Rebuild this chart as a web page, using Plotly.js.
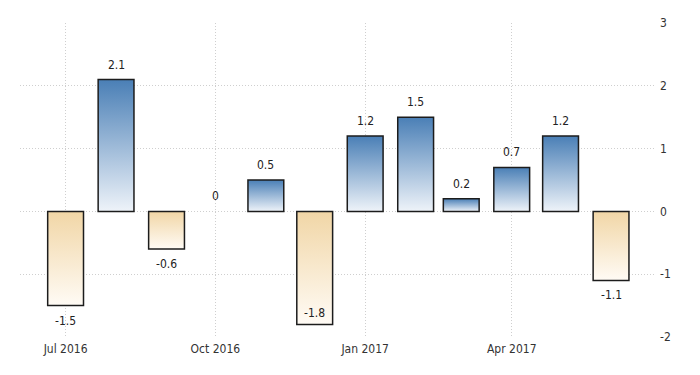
<!DOCTYPE html>
<html>
<head>
<meta charset="utf-8">
<script src="https://cdn.plot.ly/plotly-3.0.1.min.js"></script>
<style>
html,body{margin:0;padding:0;background:#fff;}
#chart{width:700px;height:375px;}
</style>
</head>
<body>
<div id="chart"></div>
<script>
var months = ["2016-07-01","2016-08-01","2016-09-01","2016-10-01","2016-11-01","2016-12-01",
              "2017-01-01","2017-02-01","2017-03-01","2017-04-01","2017-05-01","2017-06-01"];
var values = [-1.5, 2.1, -0.6, 0, 0.5, -1.8, 1.2, 1.5, 0.2, 0.7, 1.2, -1.1];
var labels = ["-1.5","2.1","-0.6","0","0.5","-1.8","1.2","1.5","0.2","0.7","1.2","-1.1"];
var yTicks = [-2, -1, 0, 1, 2, 3];
var yMin = -2, yMax = 3;

var FONT = '"DejaVu Sans Condensed", "Liberation Sans Narrow", "Arial Narrow", sans-serif';
var DAY = 86400000;

var trace = {
  type: 'bar',
  x: months,
  y: values,
  width: months.map(function(){ return 22 * DAY; }),
  marker: {
    color: values.map(function(v){ return v >= 0 ? '#8fb1d6' : '#f6e4c4'; }),
    line: {color: '#1c1c1c', width: values.map(function(v){ return v === 0 ? 0 : 1.5; })}
  },
  hoverinfo: 'none'
};

var annotations = values.map(function(v, i){
  // labels of bars reaching near the bottom of the axis are placed inside the bar
  var inside = v < 0 && (v - yMin) < 0.3;
  var above = v >= 0 || inside;
  return {
    x: months[i], y: v, xref: 'x', yref: 'y',
    text: labels[i], showarrow: false,
    yanchor: above ? 'bottom' : 'top',
    yshift: inside ? 2 : (v >= 0 ? 6 : -6),
    font: {family: FONT, size: 12, color: '#222'}
  };
});

var layout = {
  width: 700, height: 375,
  margin: {l: 20, r: 45, t: 23, b: 38},
  paper_bgcolor: '#fff', plot_bgcolor: '#fff',
  showlegend: false,
  xaxis: {
    type: 'date',
    range: ['2016-06-03', '2017-06-28'],
    tick0: '2016-07-01', dtick: 'M3',
    tickformat: '%b %Y',
    showgrid: true, gridcolor: '#cfcfcf', griddash: '1px,2px', gridwidth: 1,
    zeroline: false, showline: false, ticks: '',
    ticklabelstandoff: 3,
    tickfont: {family: FONT, size: 12, color: '#333'}
  },
  yaxis: {
    side: 'right',
    range: [yMin, yMax],
    tickvals: yTicks,
    ticktext: yTicks.map(String),
    showgrid: true, gridcolor: '#cfcfcf', griddash: '1px,2px', gridwidth: 1,
    zeroline: false, showline: false, ticks: '',
    ticklabelstandoff: 4,
    tickfont: {family: FONT, size: 12, color: '#333'}
  },
  annotations: annotations
};

Plotly.newPlot('chart', [trace], layout, {staticPlot: true}).then(function(gd){
  var svg = gd.querySelector('svg.main-svg');
  var ns = 'http://www.w3.org/2000/svg';
  var defs = svg.querySelector('defs') || svg.insertBefore(document.createElementNS(ns, 'defs'), svg.firstChild);
  function grad(id, top, bottom){
    var g = document.createElementNS(ns, 'linearGradient');
    g.setAttribute('id', id);
    g.setAttribute('x1', '0'); g.setAttribute('y1', '0');
    g.setAttribute('x2', '0'); g.setAttribute('y2', '1');
    [[0, top], [1, bottom]].forEach(function(s){
      var st = document.createElementNS(ns, 'stop');
      st.setAttribute('offset', s[0]);
      st.setAttribute('stop-color', s[1]);
      g.appendChild(st);
    });
    defs.appendChild(g);
  }
  grad('gradPos', '#4a7fb6', '#eef3f9');
  grad('gradNeg', '#f1d6a6', '#fffbf5');
  var paths = gd.querySelectorAll('.trace.bars .point path');
  paths.forEach(function(p, i){
    p.style.fill = values[i] >= 0 ? 'url(#gradPos)' : 'url(#gradNeg)';
    p.style.fillOpacity = 1;
  });
});
</script>
</body>
</html>
